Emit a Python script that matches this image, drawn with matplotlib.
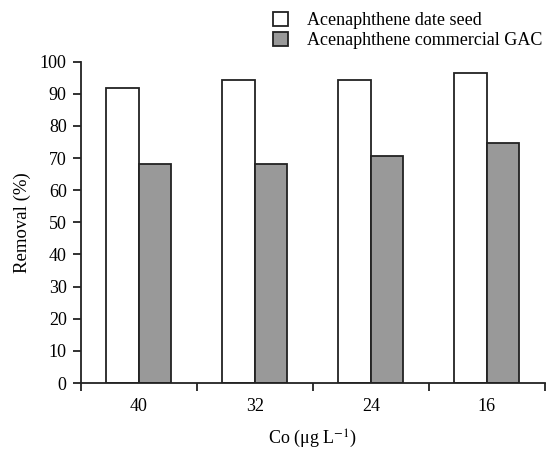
import matplotlib
matplotlib.use("Agg")
import matplotlib.pyplot as plt
import numpy as np

categories = ["40", "32", "24", "16"]
date_seed = [91.9, 94.4, 94.4, 96.6]
commercial_gac = [68.3, 68.3, 70.8, 74.7]

plt.rcParams['font.family'] = ['Liberation Serif', 'DejaVu Serif']
plt.rcParams['mathtext.fontset'] = 'stix'

fig = plt.figure(figsize=(5.54, 4.5), dpi=100)
ax = fig.add_axes([80.6/554, 1-383/450, (545-80.6)/554, (383-61.7)/450])

x = np.arange(len(categories))
w = 0.28
b1 = ax.bar(x - w/2, date_seed, w, color='white', edgecolor='#222222', linewidth=1.3,
            label='Acenaphthene date seed')
b2 = ax.bar(x + w/2, commercial_gac, w, color='#999999', edgecolor='#222222', linewidth=1.3,
            label='Acenaphthene commercial GAC')

ax.set_xlim(-0.5, len(categories) - 0.5)
ax.set_ylim(0, 100)
ax.set_yticks(np.arange(0, 101, 10))
ax.set_xticks(x)
ax.set_xticklabels(categories)
ax.set_xticks(np.arange(-0.5, len(categories), 1.0), minor=True)
ax.tick_params(axis='x', which='major', length=0, pad=11, labelsize=13)
ax.tick_params(axis='x', which='minor', length=6, width=1.3, direction='out', color='#222222')
ax.tick_params(axis='y', length=6, width=1.3, direction='out', labelsize=13, pad=4, color='#222222')

for s in ['top', 'right']:
    ax.spines[s].set_visible(False)
for s in ['left', 'bottom']:
    ax.spines[s].set_linewidth(1.3)
    ax.spines[s].set_color('#222222')

ax.set_ylabel('Removal (%)', fontsize=13.5)
ax.yaxis.set_label_coords((22-80.6)/464.4, 0.5)
ax.yaxis.label.set_va('center')
ax.set_xlabel(r'Co ($\mathregular{\mu}$g L$^{-1}$)', fontsize=13)
ax.xaxis.set_label_coords(0.5, (383-439)/321.3)
ax.xaxis.label.set_va('center')

leg = fig.legend(handles=[b1, b2], loc='upper left', bbox_to_anchor=(273/554, 1-12/450),
                 frameon=False, fontsize=13, handlelength=0.83, handleheight=0.78,
                 handletextpad=1.05, labelspacing=0.16, borderaxespad=0, borderpad=0)

fig.savefig('out.png', dpi=100)
